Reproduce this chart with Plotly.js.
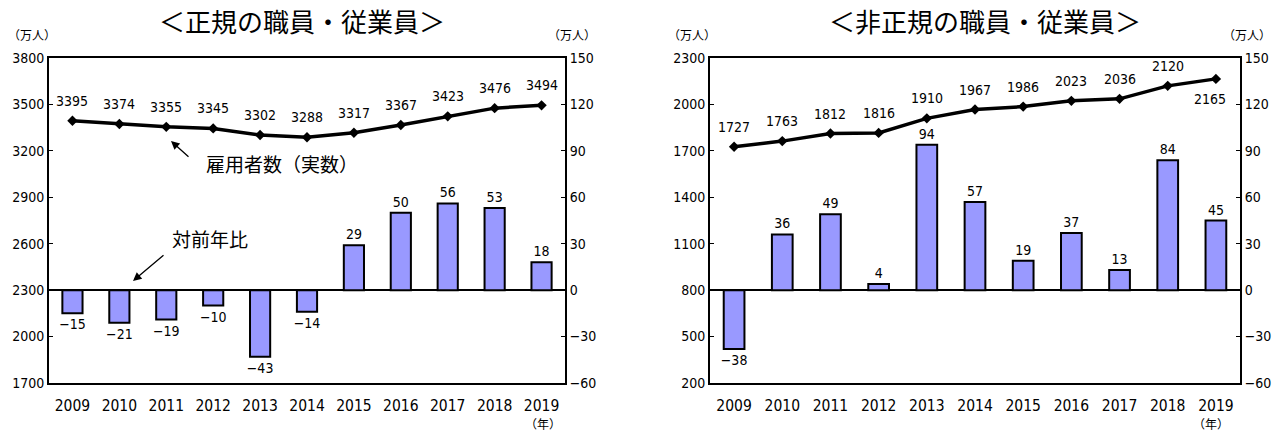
<!DOCTYPE html>
<html><head><meta charset="utf-8">
<script src="https://cdn.plot.ly/plotly-3.0.1.min.js"></script>
<style>body{margin:0;background:#fff}#c{width:1273px;height:433px}</style>
</head><body><div id="c"></div>
<script>
const years = ['2009','2010','2011','2012','2013','2014','2015','2016','2017','2018','2019'];
const regularEmployees = [3395,3374,3355,3345,3302,3288,3317,3367,3423,3476,3494];
const regularChange = [-15,-21,-19,-10,-43,-14,29,50,56,53,18];
const nonRegularEmployees = [1727,1763,1812,1816,1910,1967,1986,2023,2036,2120,2165];
const nonRegularChange = [-38,36,49,4,94,57,19,37,13,84,45];
const leftTicks = [1700,2000,2300,2600,2900,3200,3500,3800];
const rightTicksL = [200,500,800,1100,1400,1700,2000,2300];
const barTicks = [-60,-30,0,30,60,90,120,150];

const FONT = 'Liberation Sans Narrow, DejaVu Sans Condensed, Arial Narrow, Noto Sans CJK JP, sans-serif';
const JP = 'Noto Sans CJK JP, sans-serif';
const W = 1273, H = 433;
const px = v => v / W, py = v => 1 - v / H;
const fmt = v => (v < 0 ? '\u2212' + Math.abs(v) : String(v));
const idx = years.map((_, i) => i);

const barColor = '#9999ff';
function barTrace(vals, xa, ya) {
  return {type:'bar', x:idx, y:vals, xaxis:xa, yaxis:ya, width:0.43,
    marker:{color:barColor, line:{color:'#000', width:2}},
    text:vals.map(fmt), textposition:'outside', cliponaxis:false, constraintext:'none',
    textfont:{family:FONT, size:14, color:'#000'}, outsidetextfont:{family:FONT, size:14, color:'#000'}, hoverinfo:'none'};
}
function lineTrace(vals, xa, ya) {
  return {type:'scatter', mode:'lines+markers', x:idx, y:vals, xaxis:xa, yaxis:ya,
    line:{color:'#000', width:3.5}, marker:{symbol:'diamond', size:8, color:'#000'}, hoverinfo:'none'};
}
const data = [
  barTrace(regularChange,'x','y'), lineTrace(regularEmployees,'x','y2'),
  barTrace(nonRegularChange,'x2','y3'), lineTrace(nonRegularEmployees,'x2','y4')
];

const yd = [py(383), py(58)];
const axLine = {showline:true, linecolor:'#000', linewidth:2, showgrid:false, zeroline:false,
  tickfont:{family:FONT, size:14, color:'#000'}};
const xBase = {type:'linear', range:[-0.5,10.5], autorange:false, tickvals:idx, ticktext:years, mirror:true, ticks:'',
  tickfont:{family:FONT, size:15.5, color:'#000'}, ticklabelstandoff:7};
const layout = {
  width:W, height:H, margin:{l:0,r:0,t:0,b:0}, showlegend:false,
  paper_bgcolor:'#fff', plot_bgcolor:'#fff',
  xaxis:Object.assign({}, axLine, xBase, {domain:[px(49),px(565)], anchor:'y'}),
  xaxis2:Object.assign({}, axLine, xBase, {domain:[px(710),px(1240)], anchor:'y3'}),
  yaxis:Object.assign({}, axLine, {domain:yd, anchor:'x', side:'right', range:[-60,150], autorange:false, tickvals:barTicks,
    ticktext:barTicks.map(fmt), ticks:'inside', ticklen:4, tickcolor:'#000', zeroline:true, zerolinecolor:'#000', zerolinewidth:1.5}),
  yaxis2:Object.assign({}, axLine, {overlaying:'y', anchor:'x', side:'left', range:[1700,3800], autorange:false, tickvals:leftTicks, ticks:'inside', ticklen:4, tickcolor:'#000'}),
  yaxis3:Object.assign({}, axLine, {domain:yd, anchor:'x2', side:'right', range:[-60,150], autorange:false, tickvals:barTicks,
    ticktext:barTicks.map(fmt), ticks:'inside', ticklen:4, tickcolor:'#000', zeroline:true, zerolinecolor:'#000', zerolinewidth:1.5}),
  yaxis4:Object.assign({}, axLine, {overlaying:'y3', anchor:'x2', side:'left', range:[200,2300], autorange:false, tickvals:rightTicksL, ticks:'inside', ticklen:4, tickcolor:'#000'}),
  annotations:[]
};
const A = layout.annotations;
regularEmployees.forEach((v,i)=>A.push({x:i, y:v, xref:'x', yref:'y2', text:String(v), showarrow:false, yshift:20,
  font:{family:FONT, size:14, color:'#000'}}));
nonRegularEmployees.forEach((v,i)=>{
  const last = i === nonRegularEmployees.length-1;
  A.push({x:i, y:v, xref:'x2', yref:'y4', text:String(v), showarrow:false, yshift:last?-20:20, xshift:last?-6:0,
    font:{family:FONT, size:14, color:'#000'}});
});
function txt(x,y,t,size,fam){A.push({xref:'paper',yref:'paper',x:px(x),y:py(y),text:t,showarrow:false,
  font:{family:fam||JP,size:size,color:'#000'},xanchor:'center',yanchor:'middle'});}
txt(302,20,'＜正規の職員・従業員＞',26);
txt(985,20,'＜非正規の職員・従業員＞',26);
txt(32,35,'（万人）',12); txt(572,35,'（万人）',12);
txt(692,35,'（万人）',12); txt(1247,35,'（万人）',12);
txt(543,423,'（年）',12); txt(1211,423,'（年）',12);
txt(282,163,'雇用者数（実数）',19);
txt(210,238,'対前年比',19);
function arrow(hx,hy,tx,ty){A.push({xref:'paper',yref:'paper',x:px(hx),y:py(hy),ax:tx-hx,ay:ty-hy,text:'',
  showarrow:true,arrowhead:2,arrowsize:1.3,arrowwidth:1.3,arrowcolor:'#000'});}
arrow(171,141,190,158);
arrow(133,281,165,254);

Plotly.newPlot('c', data, layout, {staticPlot:true});
</script></body></html>
